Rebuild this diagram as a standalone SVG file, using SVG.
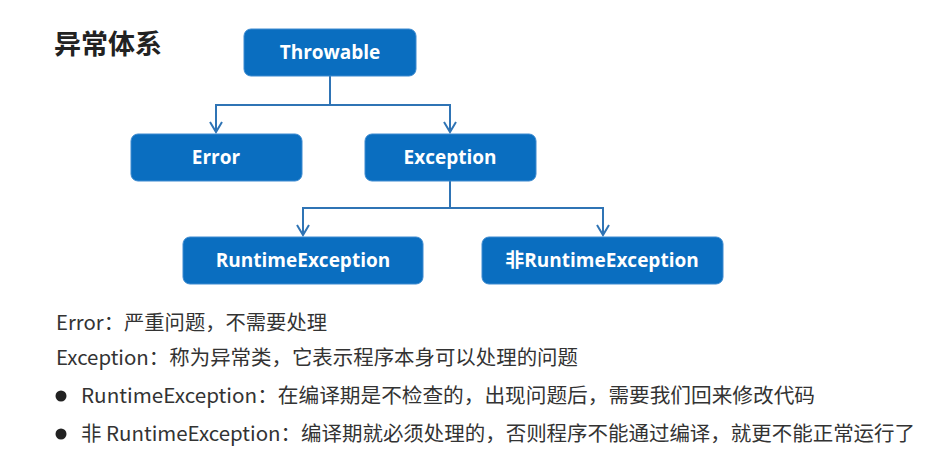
<svg xmlns="http://www.w3.org/2000/svg" width="935" height="461" viewBox="0 0 935 461">
<defs>
<marker id="arr" markerWidth="14" markerHeight="14" viewBox="0 0 14 14" refX="12" refY="7" orient="auto" markerUnits="userSpaceOnUse">
<path d="M2,1 L12,7 L2,13" fill="none" stroke="#2F74B5" stroke-width="2"/>
</marker>
<style>
.box{fill:#0A6EC0;stroke:#3C8AD0;stroke-width:1}
.bt{font-family:"Open Sans","Noto Sans","Noto Sans CJK SC",sans-serif;font-weight:bold;font-size:19px;fill:#fff;text-anchor:middle;dominant-baseline:central}
.conn{fill:none;stroke:#2F74B5;stroke-width:2}
.tx{font-family:"Noto Sans CJK SC","Noto Sans",sans-serif;font-size:20px;fill:#333}
</style>
</defs>
<rect width="935" height="461" fill="#fff"/>
<text x="54" y="54" font-family="Noto Sans CJK SC, sans-serif" font-weight="bold" font-size="27" fill="#222">异常体系</text>
<g id="connectors">
<path class="conn" d="M330,76 V105 M216,105 H450 M450,181 V208 M303,208 H603"/>
<path class="conn" d="M216,104 V132" marker-end="url(#arr)"/>
<path class="conn" d="M450,104 V132" marker-end="url(#arr)"/>
<path class="conn" d="M303,207 V235" marker-end="url(#arr)"/>
<path class="conn" d="M603,207 V235" marker-end="url(#arr)"/>
</g>
<g id="throwable"><rect class="box" x="244" y="29" width="172" height="47" rx="7"/><text class="bt" x="330" y="52">Throwable</text></g>
<g id="error"><rect class="box" x="131" y="134" width="171" height="47" rx="7"/><text class="bt" x="216" y="157">Error</text></g>
<g id="exception"><rect class="box" x="365" y="134" width="171" height="47" rx="7"/><text class="bt" x="450" y="157">Exception</text></g>
<g id="runtime"><rect class="box" x="183" y="237" width="240" height="47" rx="7"/><text class="bt" x="303" y="260">RuntimeException</text></g>
<g id="nonruntime"><rect class="box" x="482" y="237" width="241" height="47" rx="7"/><text class="bt" x="602" y="260">非RuntimeException</text></g>
<g id="notes">
<text class="tx" x="56" y="330" textLength="271" lengthAdjust="spacingAndGlyphs">Error：严重问题，不需要处理</text>
<text class="tx" x="56" y="365" textLength="522" lengthAdjust="spacingAndGlyphs">Exception：称为异常类，它表示程序本身可以处理的问题</text>
<circle cx="61" cy="396" r="5.5" fill="#222"/>
<text class="tx" x="81" y="403" textLength="734" lengthAdjust="spacingAndGlyphs">RuntimeException：在编译期是不检查的，出现问题后，需要我们回来修改代码</text>
<circle cx="61" cy="434" r="5.5" fill="#222"/>
<text class="tx" x="81" y="441" textLength="834" lengthAdjust="spacingAndGlyphs">非 RuntimeException：编译期就必须处理的，否则程序不能通过编译，就更不能正常运行了</text>
</g>
</svg>
